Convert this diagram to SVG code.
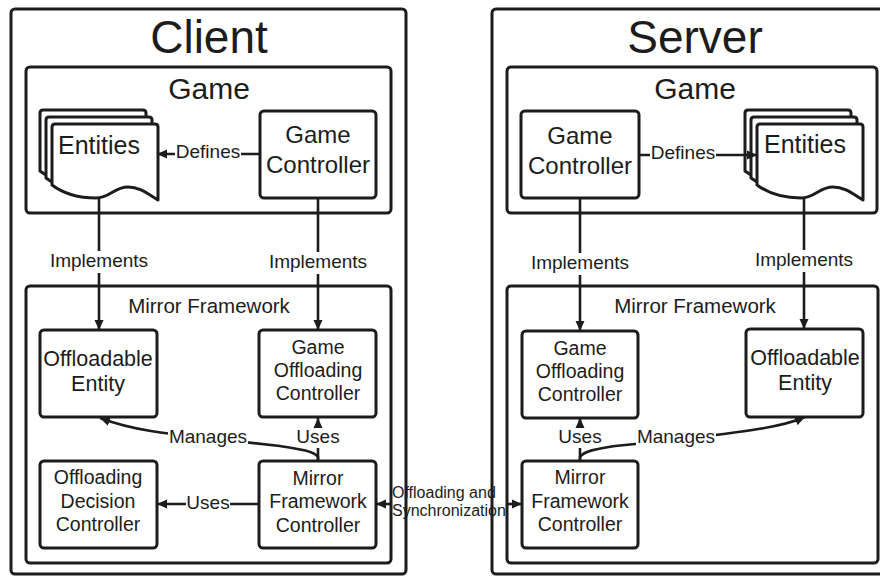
<svg xmlns="http://www.w3.org/2000/svg" width="880" height="576" viewBox="0 0 880 576">
  <style>
    .frame { fill: #ffffff; stroke: #1c1c1c; stroke-width: 3; }
    .box { fill: #ffffff; stroke: #1c1c1c; stroke-width: 3; }
    .sheet { fill: #ffffff; stroke: #1c1c1c; stroke-width: 3; stroke-linejoin: round; }
    .edge { fill: none; stroke: #1c1c1c; stroke-width: 2.6; }
    text { font-family: "Liberation Sans", Arial, sans-serif; fill: #1c1c1c; }
    .title { font-size: 46px; text-anchor: middle; }
    .group { font-size: 30px; text-anchor: middle; }
    .sub { font-size: 20.5px; text-anchor: middle; }
    .big { font-size: 24px; text-anchor: middle; }
    .doc { font-size: 25px; }
    .mid { font-size: 21.5px; text-anchor: middle; }
    .node { font-size: 19.5px; text-anchor: middle; }
    .lbl { font-size: 19px; text-anchor: middle; }
    .sync { font-size: 16px; }
    .bg { fill: #ffffff; }
  </style>
  <defs>
    <marker id="arrow" viewBox="0 0 10 10" refX="10" refY="5" markerWidth="10" markerHeight="10" markerUnits="userSpaceOnUse" orient="auto-start-reverse">
      <path d="M0,0.5 L10,5 L0,9.5 Z" fill="#1c1c1c"/>
    </marker>
    <path id="sheet" d="M3,0 L103,0 Q106,0 106,3 L106,76 C96,70 88,63 76,63 C62,63 58,74 44,74 C28,74 12,70 0,61 L0,3 Q0,0 3,0 Z"/>
  </defs>

  <rect width="880" height="576" fill="#ffffff"/>

  <!-- Client side -->
  <g id="client">
    <rect class="frame" x="11" y="9" width="395" height="565" rx="4"/>
    <text class="title" x="209" y="53">Client</text>
  </g>
  <g id="client-game">
    <rect class="frame" x="26" y="67" width="365" height="146" rx="4"/>
    <text class="group" x="209" y="99">Game</text>
  </g>
  <g id="client-entities">
    <use href="#sheet" class="sheet" x="40" y="110"/>
    <use href="#sheet" class="sheet" x="46" y="117"/>
    <use href="#sheet" class="sheet" x="52" y="124"/>
    <text class="doc" x="58" y="154">Entities</text>
  </g>
  <g id="client-game-controller">
    <rect class="box" x="260" y="111" width="116" height="87" rx="4"/>
    <text class="big" x="318" y="143">Game</text>
    <text class="big" x="318" y="173">Controller</text>
  </g>
  <g id="client-mirror">
    <rect class="frame" x="26" y="286" width="365" height="277" rx="4"/>
    <text class="sub" x="209" y="313">Mirror Framework</text>
  </g>
  <g id="client-offloadable-entity">
    <rect class="box" x="40" y="330" width="117" height="87" rx="4"/>
    <text class="mid" x="98" y="366">Offloadable</text>
    <text class="mid" x="98" y="391">Entity</text>
  </g>
  <g id="client-game-offloading-controller">
    <rect class="box" x="259" y="330" width="117" height="87" rx="4"/>
    <text class="node" x="318" y="354">Game</text>
    <text class="node" x="318" y="377">Offloading</text>
    <text class="node" x="318" y="400">Controller</text>
  </g>
  <g id="client-offloading-decision-controller">
    <rect class="box" x="40" y="461" width="117" height="87" rx="4"/>
    <text class="node" x="98" y="484">Offloading</text>
    <text class="node" x="98" y="508">Decision</text>
    <text class="node" x="98" y="531">Controller</text>
  </g>
  <g id="client-mirror-framework-controller">
    <rect class="box" x="259" y="461" width="117" height="87" rx="4"/>
    <text class="node" x="318" y="485">Mirror</text>
    <text class="node" x="318" y="508">Framework</text>
    <text class="node" x="318" y="532">Controller</text>
  </g>

  <!-- Server side -->
  <g id="server">
    <rect class="frame" x="492" y="9" width="400" height="565" rx="4"/>
    <text class="title" x="695" y="53">Server</text>
  </g>
  <g id="server-game">
    <rect class="frame" x="507" y="67" width="370" height="146" rx="4"/>
    <text class="group" x="695" y="99">Game</text>
  </g>
  <g id="server-game-controller">
    <rect class="box" x="521" y="111" width="118" height="87" rx="4"/>
    <text class="big" x="580" y="144">Game</text>
    <text class="big" x="580" y="174">Controller</text>
  </g>
  <g id="server-entities">
    <use href="#sheet" class="sheet" x="745" y="110"/>
    <use href="#sheet" class="sheet" x="751" y="117"/>
    <use href="#sheet" class="sheet" x="757" y="124"/>
    <text class="doc" x="764" y="153">Entities</text>
  </g>
  <g id="server-mirror">
    <rect class="frame" x="507" y="286" width="371" height="277" rx="4"/>
    <text class="sub" x="695" y="313">Mirror Framework</text>
  </g>
  <g id="server-game-offloading-controller">
    <rect class="box" x="522" y="331" width="116" height="87" rx="4"/>
    <text class="node" x="580" y="355">Game</text>
    <text class="node" x="580" y="378">Offloading</text>
    <text class="node" x="580" y="401">Controller</text>
  </g>
  <g id="server-offloadable-entity">
    <rect class="box" x="746" y="329" width="117" height="88" rx="4"/>
    <text class="mid" x="805" y="365">Offloadable</text>
    <text class="mid" x="805" y="390">Entity</text>
  </g>
  <g id="server-mirror-framework-controller">
    <rect class="box" x="522" y="461" width="116" height="87" rx="4"/>
    <text class="node" x="580" y="484">Mirror</text>
    <text class="node" x="580" y="508">Framework</text>
    <text class="node" x="580" y="531">Controller</text>
  </g>

  <!-- Connectors -->
  <g id="connectors">
    <!-- client -->
    <path class="edge" d="M260,154 L157,154" marker-end="url(#arrow)"/>
    <rect class="bg" x="175" y="143" width="66" height="20"/>
    <text class="lbl" x="208" y="158">Defines</text>

    <path class="edge" d="M99,197 L99,330" marker-end="url(#arrow)"/>
    <rect class="bg" x="49" y="251" width="100" height="22"/>
    <text class="lbl" x="99" y="267">Implements</text>

    <path class="edge" d="M318,198 L318,330" marker-end="url(#arrow)"/>
    <rect class="bg" x="268" y="252" width="100" height="22"/>
    <text class="lbl" x="318" y="268">Implements</text>

    <path class="edge" d="M318,461 L318,418" marker-end="url(#arrow)"/>
    <rect class="bg" x="296" y="428" width="44" height="20"/>
    <text class="lbl" x="318" y="443">Uses</text>

    <path class="edge" d="M318,461 L318,457 C314,451 300,449 280,446 L208,438 C170,434 135,431 100,418" marker-end="url(#arrow)"/>
    <rect class="bg" x="168" y="428" width="80" height="20"/>
    <text class="lbl" x="208" y="443">Manages</text>

    <path class="edge" d="M259,504 L157,504" marker-end="url(#arrow)"/>
    <rect class="bg" x="186" y="493" width="44" height="20"/>
    <text class="lbl" x="208" y="509">Uses</text>

    <!-- client to server -->
    <path class="edge" d="M392,504 L376,504" marker-end="url(#arrow)"/>
    <path class="edge" d="M506,504 L522,504" marker-end="url(#arrow)"/>
    <text class="sync" x="392" y="498">Offloading and</text>
    <text class="sync" x="392" y="516">Synchronization</text>

    <!-- server -->
    <path class="edge" d="M639,155 L757,155" marker-end="url(#arrow)"/>
    <rect class="bg" x="650" y="144" width="66" height="20"/>
    <text class="lbl" x="683" y="159">Defines</text>

    <path class="edge" d="M580,198 L580,331" marker-end="url(#arrow)"/>
    <rect class="bg" x="530" y="253" width="100" height="22"/>
    <text class="lbl" x="580" y="269">Implements</text>

    <path class="edge" d="M804,197 L804,329" marker-end="url(#arrow)"/>
    <rect class="bg" x="754" y="250" width="100" height="22"/>
    <text class="lbl" x="804" y="266">Implements</text>

    <path class="edge" d="M580,461 L580,418" marker-end="url(#arrow)"/>
    <rect class="bg" x="558" y="428" width="44" height="20"/>
    <text class="lbl" x="580" y="443">Uses</text>

    <path class="edge" d="M580,461 L580,457 C584,451 596,449 615,446 L676,440 C740,432 780,428 805,417" marker-end="url(#arrow)"/>
    <rect class="bg" x="636" y="428" width="80" height="20"/>
    <text class="lbl" x="676" y="443">Manages</text>
  </g>
</svg>
